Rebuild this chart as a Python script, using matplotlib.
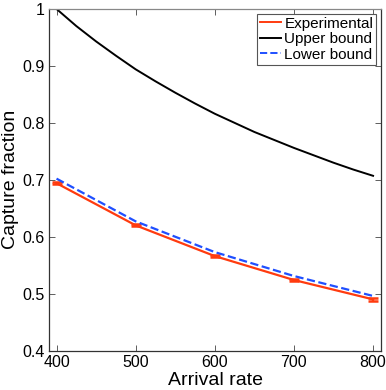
import numpy as np
import matplotlib
matplotlib.use("Agg")
import matplotlib.pyplot as plt
from matplotlib.ticker import FormatStrFormatter
from matplotlib.lines import Line2D

plt.rcParams.update({
    "font.family": ["Liberation Sans", "DejaVu Sans"],
    "xtick.direction": "in", "ytick.direction": "in",
    "xtick.top": True, "ytick.right": True,
})

# experimental points with small error bars
rate = [400, 500, 600, 700, 800]
experimental = [0.694, 0.620, 0.566, 0.524, 0.490]
exp_err = [0.002, 0.002, 0.002, 0.002, 0.002]

# bounds
bound_rate = [400, 425, 450, 475, 500, 525, 550, 575, 600,
              625, 650, 675, 700, 725, 750, 775, 800]
upper = [1.000, 0.970, 0.943, 0.918, 0.894, 0.873, 0.853, 0.834, 0.816,
         0.800, 0.784, 0.770, 0.756, 0.743, 0.730, 0.718, 0.707]
lower_rate = [400, 500, 600, 700, 800]
lower = [0.702, 0.627, 0.573, 0.531, 0.496]

RED, BLUE = "#ff3b0f", "#1f4fff"

fig = plt.figure(figsize=(3.86, 3.90), dpi=100)
ax = fig.add_axes([0.128, 0.101, 0.859, 0.876])

ax.errorbar(rate, experimental, yerr=exp_err, color=RED, lw=1.6,
            capsize=3.5, capthick=1.8, elinewidth=1.6)
ax.plot(bound_rate, upper, color="black", lw=1.4)
ax.plot(lower_rate, lower, "--", color=BLUE, lw=1.6)

ax.set_xlim(391, 810)
ax.set_ylim(0.4, 1.0)
ax.set_xticks([400, 500, 600, 700, 800])
ax.set_yticks([0.4, 0.5, 0.6, 0.7, 0.8, 0.9, 1.0])
ax.yaxis.set_major_formatter(FormatStrFormatter("%g"))
ax.tick_params(labelsize=11.5, length=4, width=0.6, color="#444")
for s in ax.spines.values():
    s.set_color("#333")
    s.set_linewidth(0.9)
ax.spines["top"].set_color("#888")

ax.set_xlabel("Arrival rate", fontsize=14, labelpad=1)
ax.set_ylabel("Capture fraction", fontsize=14, labelpad=2)

handles = [Line2D([], [], color=RED, lw=1.4),
           Line2D([], [], color="black", lw=1.4),
           Line2D([], [], color=BLUE, lw=1.4, ls="--")]
labels = ["Experimental", "Upper bound", "Lower bound"]
leg = ax.legend(handles, labels, loc="upper right", fontsize=11,
                handlelength=1.4, handletextpad=0.2, borderpad=0.2,
                labelspacing=0.1, fancybox=False, framealpha=1,
                borderaxespad=0.3)
leg.get_frame().set_edgecolor("#555")
leg.get_frame().set_linewidth(0.8)

fig.savefig("out.png", dpi=100)
plt.close(fig)
